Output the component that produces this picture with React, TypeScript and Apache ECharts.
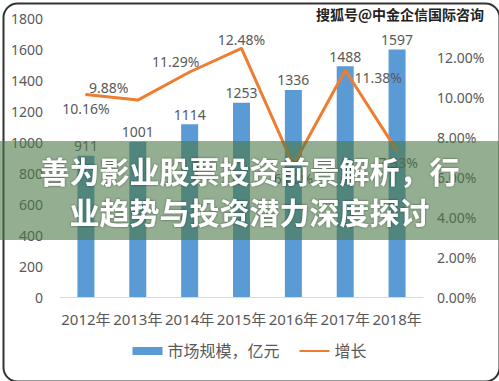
import React, { useEffect, useRef } from "react";
import * as echarts from "echarts";

const years = ["2012年", "2013年", "2014年", "2015年", "2016年", "2017年", "2018年"];
const marketSize = [911, 1001, 1114, 1253, 1336, 1488, 1597];
const growth = [10.16, 9.88, 11.29, 12.48, 6.62, 11.38, 7.33];
const growthLabelOffsets: number[][] = [
  [0, 14],
  [-29, -13],
  [-14, -11],
  [0, -9],
  [0, 13],
  [33, 7],
  [1, 12],
];
const leftTicks = { min: 0, max: 1800, interval: 200 };
const rightTicks = { min: 0, max: 14, interval: 2 };
const titleLines = ["善为影业股票投资前景解析，行", "业趋势与投资潜力深度探讨"];
const watermark = "搜狐号@中金企信国际咨询";
const seriesNames = ["市场规模，亿元", "增长"];

const FONT = "'Noto Sans', 'Noto Sans CJK SC', sans-serif";
const GRAY = "#595959";

export default function App() {
  const ref = useRef<HTMLDivElement>(null);
  useEffect(() => {
    if (!ref.current) return;
    const chart = echarts.init(ref.current, null, { renderer: "svg" });
    chart.setOption({
      animation: false,
      backgroundColor: "#ffffff",
      textStyle: { fontFamily: FONT },
      grid: { left: 60, right: 76, top: 18, bottom: 84 },
      legend: {
        bottom: 17,
        left: "center",
        itemWidth: 30,
        itemHeight: 8,
        itemGap: 19,
        textStyle: { color: GRAY, fontSize: 16, fontFamily: FONT },
        data: [
          { name: seriesNames[0], icon: "rect" },
          { name: seriesNames[1], itemStyle: { opacity: 0 } },
        ],
      },
      xAxis: {
        type: "category",
        data: years,
        axisLine: { show: true, lineStyle: { color: "#d9d9d9", width: 1 } },
        axisTick: { show: false },
        axisLabel: { color: GRAY, fontSize: 15, margin: 14, interval: 0 },
      },
      yAxis: [
        {
          type: "value",
          ...leftTicks,
          splitLine: { show: false },
          axisLine: { show: false },
          axisTick: { show: false },
          axisLabel: {
            color: GRAY,
            fontSize: 14,
            margin: 17,
            formatter: (v: number) => String(v),
          },
        },
        {
          type: "value",
          ...rightTicks,
          splitLine: { show: false },
          axisLine: { show: false },
          axisTick: { show: false },
          axisLabel: {
            color: GRAY,
            fontSize: 14,
            margin: 14,
            formatter: (v: number) => (v >= rightTicks.max ? "" : v.toFixed(2) + "%"),
          },
        },
      ],
      series: [
        {
          name: seriesNames[0],
          type: "bar",
          data: marketSize,
          barWidth: 17,
          itemStyle: { color: "#5B9BD5" },
          label: { show: true, position: "top", color: GRAY, fontSize: 14, distance: 3 },
          z: 2,
        },
        {
          name: seriesNames[1],
          type: "line",
          yAxisIndex: 1,
          data: growth.map((v, i) => ({
            value: v,
            label: { offset: growthLabelOffsets[i] },
          })),
          symbol: "circle",
          symbolSize: 2,
          itemStyle: { color: "#ED7D31" },
          lineStyle: { color: "#ED7D31", width: 3 },
          label: {
            show: true,
            position: "inside",
            color: GRAY,
            fontSize: 14,
            formatter: (p: any) => p.value.toFixed(2) + "%",
          },
          z: 3,
        },
      ],
      graphic: [
        {
          type: "text",
          right: 14,
          top: 6,
          z: 50,
          style: {
            text: watermark,
            fill: "#222222",
            fontSize: 14,
            fontWeight: "bold",
            fontFamily: "'Noto Sans CJK SC', sans-serif",
            stroke: "#ffffff",
            lineWidth: 2,
          },
        },
        {
          type: "rect",
          left: 0,
          top: 141,
          z: 100,
          shape: { width: 499, height: 99 },
          style: { fill: "rgba(75,120,70,0.6)" },
        },
        {
          type: "text",
          x: 249.5,
          y: 170,
          z: 101,
          style: {
            text: titleLines[0],
            fill: "#ffffff",
            fontSize: 30,
            fontWeight: "bold",
            fontFamily: "'Noto Sans CJK SC', sans-serif",
            align: "center",
            verticalAlign: "middle",
            textShadowColor: "rgba(0,0,0,0.5)",
            textShadowBlur: 2,
          },
        },
        {
          type: "text",
          x: 249.5,
          y: 211,
          z: 101,
          style: {
            text: titleLines[1],
            fill: "#ffffff",
            fontSize: 30,
            fontWeight: "bold",
            fontFamily: "'Noto Sans CJK SC', sans-serif",
            align: "center",
            verticalAlign: "middle",
            textShadowColor: "rgba(0,0,0,0.5)",
            textShadowBlur: 2,
          },
        },
        {
          type: "rect",
          left: 1,
          top: 1,
          z: 90,
          shape: { width: 496, height: 378, r: 14 },
          style: { fill: "none", stroke: "#333333", lineWidth: 2 },
        },
      ],
    });
    return () => chart.dispose();
  }, []);
  return (
    <div
      ref={ref}
      style={{ position: "fixed", left: 0, top: 0, width: 499, height: 381 }}
    />
  );
}
